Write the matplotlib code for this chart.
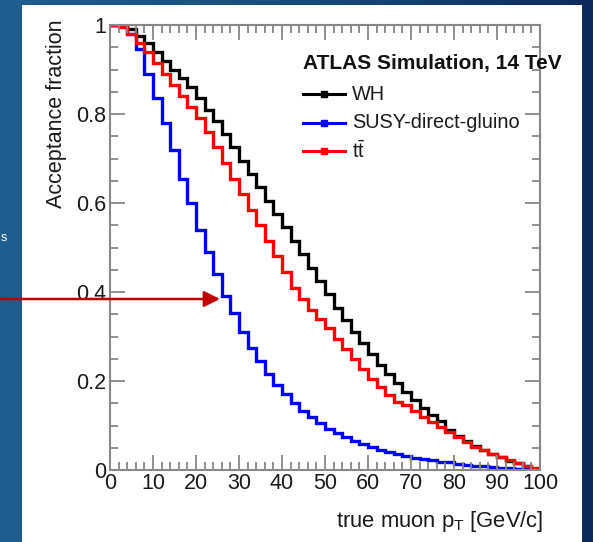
import numpy as np
import matplotlib
matplotlib.use("Agg")
import matplotlib.pyplot as plt
from matplotlib.patches import Rectangle
from matplotlib.ticker import MultipleLocator
from matplotlib.colors import LinearSegmentedColormap

plt.rcParams['font.family'] = ['Liberation Sans', 'DejaVu Sans']
plt.rcParams['mathtext.fontset'] = 'custom'
plt.rcParams['mathtext.rm'] = 'Liberation Sans'
plt.rcParams['mathtext.sf'] = 'Liberation Sans'
plt.rcParams['mathtext.it'] = 'Liberation Sans'

# ---- data (2 GeV bins, 0..100 GeV) ----
bin_edges = list(range(0, 102, 2))

wh = [1.0, 1.0, 0.99, 0.975, 0.96, 0.94, 0.92, 0.90, 0.88, 0.86,
      0.835, 0.81, 0.785, 0.755, 0.725, 0.695, 0.665, 0.635, 0.605, 0.575,
      0.545, 0.515, 0.485, 0.455, 0.425, 0.395, 0.365, 0.338, 0.31, 0.285,
      0.26, 0.237, 0.215, 0.195, 0.175, 0.157, 0.14, 0.124, 0.109, 0.09,
      0.077, 0.065, 0.054, 0.045, 0.037, 0.029, 0.021, 0.015, 0.009, 0.003]

susy = [1.0, 1.0, 0.98, 0.945, 0.89, 0.835, 0.78, 0.72, 0.655, 0.6,
        0.54, 0.49, 0.44, 0.39, 0.353, 0.31, 0.275, 0.245, 0.215, 0.19,
        0.17, 0.15, 0.133, 0.118, 0.105, 0.093, 0.083, 0.074, 0.066, 0.059,
        0.052, 0.046, 0.041, 0.036, 0.032, 0.028, 0.025, 0.022, 0.019, 0.017,
        0.014, 0.012, 0.010, 0.008, 0.007, 0.005, 0.004, 0.003, 0.002, 0.001]

ttbar = [1.0, 0.995, 0.98, 0.96, 0.94, 0.915, 0.89, 0.865, 0.84, 0.815,
         0.79, 0.76, 0.725, 0.69, 0.655, 0.62, 0.585, 0.55, 0.515, 0.48,
         0.445, 0.41, 0.385, 0.36, 0.34, 0.318, 0.295, 0.272, 0.25, 0.228,
         0.205, 0.186, 0.168, 0.152, 0.145, 0.132, 0.12, 0.108, 0.096, 0.085,
         0.075, 0.064, 0.052, 0.044, 0.037, 0.03, 0.023, 0.016, 0.01, 0.004]

series_names = ["WH", "SUSY-direct-gluino", r"$\mathrm{t\bar{t}}$"]
series_colors = ["black", "#0000ff", "#ff0000"]
x_ticks = [0, 10, 20, 30, 40, 50, 60, 70, 80, 90, 100]
y_ticks = [0, 0.2, 0.4, 0.6, 0.8, 1.0]
y_ticklabels = ["0", "0.2", "0.4", "0.6", "0.8", "1"]

W, H = 593, 542
fig = plt.figure(figsize=(W / 100, H / 100), dpi=100)

# background gradient (slide)
bg = fig.add_axes([0, 0, 1, 1])
grad = np.linspace(0, 1, 256)[None, :]
cmap = LinearSegmentedColormap.from_list("bg", ["#1f5e90", "#174c7e", "#0d2a5c"])
bg.imshow(grad, aspect='auto', cmap=cmap, extent=[0, 1, 0, 1])
bg.set_xlim(0, 1); bg.set_ylim(0, 1)
bg.axis('off')
bg.add_patch(Rectangle((22 / W, 0), (582 - 22) / W, (H - 5) / H, facecolor='white',
                       edgecolor='none'))
bg.text(0.5 / W, 1 - 238 / H, "s", color='white', fontsize=9, ha='left', va='center')

ax = fig.add_axes([110 / W, 1 - 470 / H, (540 - 110) / W, (470 - 25) / H])
ax.set_facecolor('white')
for vals, name, col in zip([wh, susy, ttbar], series_names, series_colors):
    ax.stairs(vals, bin_edges, color=col, lw=2.4, baseline=None)

ax.set_xlim(0, 100)
ax.set_ylim(0, 1.0)
ax.set_xticks(x_ticks)
ax.set_xticklabels([str(v) for v in x_ticks])
ax.set_yticks(y_ticks)
ax.set_yticklabels(y_ticklabels)
ax.xaxis.set_minor_locator(MultipleLocator(2))
ax.yaxis.set_minor_locator(MultipleLocator(0.05))
for s in ax.spines.values():
    s.set_color('#888888')
    s.set_linewidth(1.5)
ax.tick_params(which='both', direction='in', top=True, right=True, colors='#888888',
               labelcolor='#1a1a1a', labelsize=15.5, width=1.3)
ax.tick_params(which='major', length=11)
ax.tick_params(which='minor', length=6)
ax.tick_params(axis='x', pad=2)
ax.tick_params(axis='y', pad=3)

fig.text(57 / W, 1 - 20 / H, "Acceptance fraction", rotation=90, ha='center', va='top',
         fontsize=15.5, color='#1a1a1a')
fig.text(543 / W, 1 - 522 / H, r"true muon p$_{\mathrm{T}}$ [GeV/c]", ha='right', va='center',
         fontsize=15.8, color='#1a1a1a')

# legend
fig.text(303 / W, 1 - 64 / H, "ATLAS Simulation, 14 TeV",
         fontsize=15, fontweight='bold', ha='left', va='center', color='#111111')
for i, (name, col) in enumerate(zip(series_names, series_colors)):
    yy = 1 - (94 + i * 28.5) / H
    fig.lines.append(plt.Line2D([303 / W, 345 / W], [yy, yy], transform=fig.transFigure,
                                color=col, lw=2.2))
    fig.lines.append(plt.Line2D([324 / W], [yy], transform=fig.transFigure, color=col,
                                marker='s', markersize=4, lw=0))
    fig.text(352 / W, yy, name, fontsize=14.3, ha='left', va='center', color='#1a1a1a')

# arrow
ay = 1 - 299 / H
fig.add_artist(matplotlib.patches.FancyArrowPatch(
    (0, ay), (220 / W, ay), transform=fig.transFigure, arrowstyle='-|>',
    mutation_scale=24, color='#c00000', lw=1.8, shrinkA=0, shrinkB=0))

fig.savefig("out.png", dpi=100)
